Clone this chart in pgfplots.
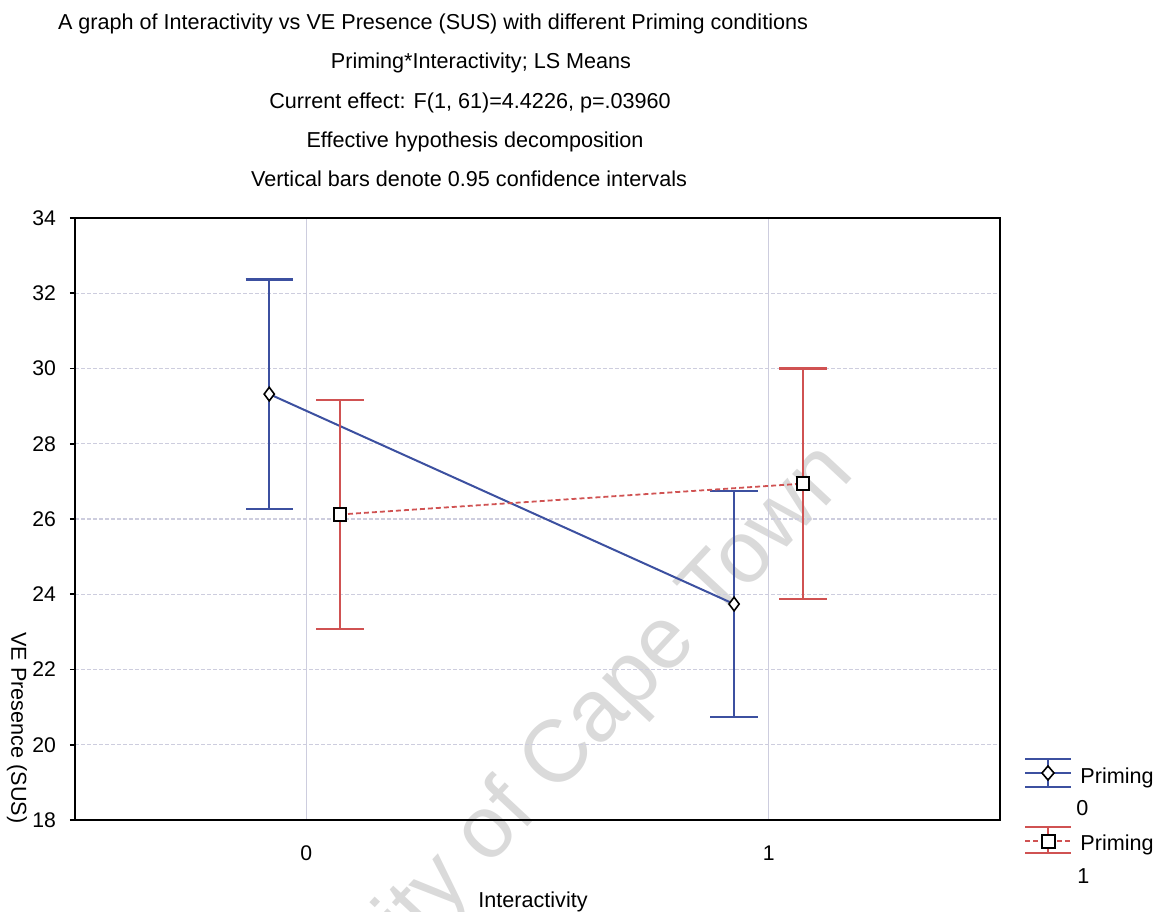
\documentclass[border=0pt]{standalone}
\usepackage{fontspec}
\setmainfont{Liberation Sans}
\usepackage{pgfplots}
\usepackage{pgfplotstable}
\pgfplotsset{compat=1.18}
\definecolor{blueS}{RGB}{60,80,160}
\definecolor{redS}{RGB}{208,82,82}
\definecolor{gridc}{RGB}{205,205,222}
\definecolor{wm}{RGB}{218,218,218}

\pgfplotstableread{
x y e
-0.080 29.32 3.05
0.925 23.74 3.01
}\primA
\pgfplotstableread{
x y e
0.073 26.12 3.05
1.074 26.94 3.06
}\primB

\begin{document}
\begin{tikzpicture}
\useasboundingbox (0,0) rectangle (578.5pt,455.5pt);
\begin{scope}[yshift=455.5pt,x=0.5pt,y=-0.5pt]
 \node[text=wm, font=\fontsize{44}{50}\selectfont, rotate=47, anchor=base east, inner sep=0pt] at (856,474) {ity of Cape Town};
\end{scope}
\begin{axis}[
  at={(37.5pt,45.5pt)}, anchor=south west,
  scale only axis, width=462.5pt, height=301pt,
  xmin=-0.5, xmax=1.5, ymin=18, ymax=34,
  xtick={0,1}, ytick={18,20,...,34},
  ytick pos=left,
  /pgf/number format/assume math mode=true,
  tick label style={font=\fontsize{10.6}{12}\selectfont},
  xticklabel style={yshift=-7pt},
  yticklabel style={xshift=-3.5pt},
  tick align=outside, major tick length=2.5pt,
  xtick style={draw=none},
  ytick style={line width=0.8pt, black},
  axis line style={line width=1pt},
  xmajorgrids, ymajorgrids,
  major x grid style={gridc, line width=0.6pt},
  major y grid style={gridc, line width=0.7pt, dash pattern=on 2pt off 1pt},
  clip=false,
]
\addplot[blueS, line width=1pt, mark=diamond*,
  mark options={solid, fill=white, draw=black, line width=0.8pt, mark size=3.4pt},
  error bars/.cd, y dir=both, y explicit,
  error bar style={solid, blueS, line width=1.2pt},
  error mark options={solid, rotate=90, blueS, line width=1.2pt, mark size=11.8pt}]
  table[x=x, y=y, y error=e] {\primA};
\addplot[redS, line width=0.9pt, dash pattern=on 2.5pt off 1.5pt, mark=square*,
  mark options={solid, fill=white, draw=black, line width=1pt, mark size=3.2pt},
  error bars/.cd, y dir=both, y explicit,
  error bar style={solid, redS, line width=1.2pt},
  error mark options={solid, rotate=90, redS, line width=1.2pt, mark size=11.8pt}]
  table[x=x, y=y, y error=e] {\primB};
\end{axis}
\begin{scope}[yshift=455.5pt,x=0.5pt,y=-0.5pt, every node/.style={font=\fontsize{10.8}{13}\selectfont, inner sep=0pt}]
 % titles
 \node[anchor=base] at (433,30) {A graph of Interactivity vs VE Presence (SUS) with different Priming conditions};
 \node[anchor=base] at (481,69) {Priming*Interactivity; LS Means};
 \node[anchor=base] at (470,108.5) {Current effect: F(1, 61)=4.4226, p=.03960};
 \node[anchor=base] at (475,148) {Effective hypothesis decomposition};
 \node[anchor=base] at (469,187) {Vertical bars denote 0.95 confidence intervals};
 % axis labels
 \node[anchor=base] at (533,907) {Interactivity};
 \node[rotate=-90] at (17,728) {VE Presence (SUS)};
 % legend
 \draw[blueS, line width=1.2pt] (1025,759) -- (1071,759);
 \draw[blueS, line width=1.2pt] (1025,787) -- (1071,787);
 \draw[blueS, line width=1.2pt] (1025,773) -- (1071,773);
 \draw[blueS, line width=1.2pt] (1048,759) -- (1048,787);
 \draw[black, fill=white, line width=0.8pt] (1048,766) -- (1054,773) -- (1048,780) -- (1042,773) -- cycle;
 \node[anchor=base west] at (1080,784) {Priming};
 \node[anchor=base west] at (1076,815) {0};
 \draw[redS, line width=1.2pt] (1025,827) -- (1071,827);
 \draw[redS, line width=1.2pt] (1025,853) -- (1071,853);
 \draw[redS, line width=0.9pt, dash pattern=on 2.5pt off 1.5pt] (1025,841) -- (1071,841);
 \draw[redS, line width=1.2pt] (1048,827) -- (1048,853);
 \draw[black, fill=white, line width=1pt] (1041.5,834.5) rectangle (1054.5,847.5);
 \node[anchor=base west] at (1080,850) {Priming};
 \node[anchor=base west] at (1077,883) {1};
\end{scope}
\end{tikzpicture}
\end{document}
